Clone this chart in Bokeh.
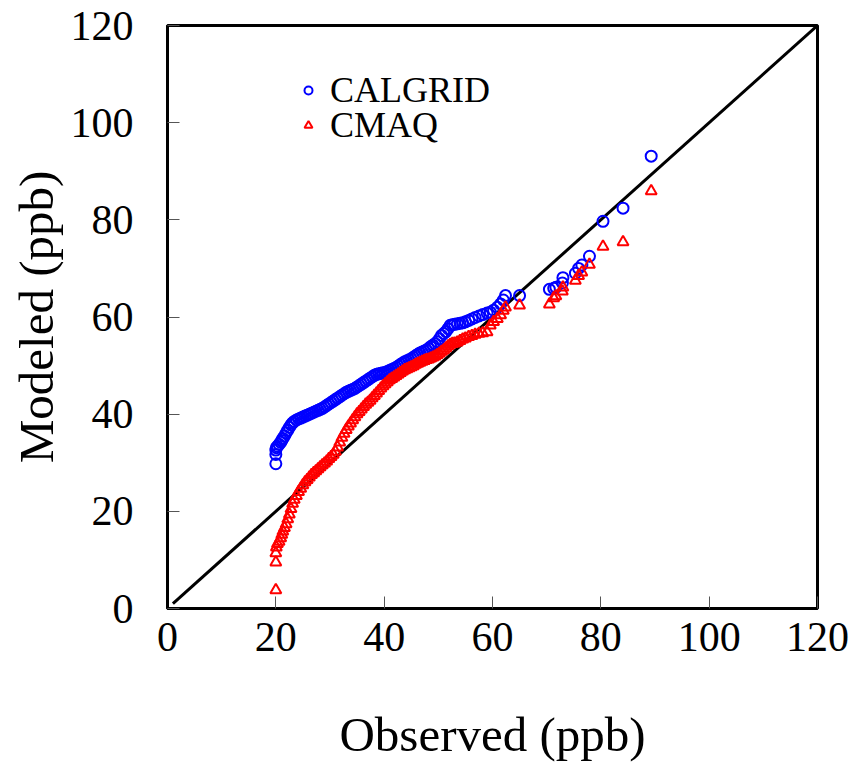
from bokeh.plotting import figure
from bokeh.models import Range1d, FixedTicker, Legend, LegendItem
from bokeh.embed import file_html
from bokeh.resources import INLINE

# Observed quantiles (ppb), shared by both models
observed = [20.0, 20.0, 20.0, 20.1, 20.3, 20.6, 20.9, 21.1, 21.3, 21.6, 21.9, 22.2, 22.5, 22.8,
            23.1, 23.4, 23.8, 24.2, 24.6, 25.0, 25.4, 25.8, 26.2, 26.6, 27.0, 27.4, 27.8, 28.2,
            28.6, 29.0, 29.4, 29.8, 30.2, 30.6, 31.0, 31.4, 31.8, 32.2, 32.6, 33.0, 33.4, 33.8,
            34.2, 34.6, 35.0, 35.4, 35.8, 36.2, 36.6, 37.0, 37.4, 37.8, 38.2, 38.6, 39.0, 39.4,
            39.8, 40.2, 40.6, 41.0, 41.4, 41.8, 42.2, 42.6, 43.0, 43.4, 43.8, 44.2, 44.6, 45.0,
            45.4, 45.8, 46.2, 46.6, 47.0, 47.4, 47.8, 48.2, 48.6, 49.0, 49.4, 49.8, 50.2, 50.6,
            51.0, 51.4, 51.8, 52.2, 52.6, 53.0, 53.5, 54.0, 54.5, 55.0, 55.6, 56.2, 56.8, 57.5,
            58.2, 59.0, 59.6, 60.2, 60.9, 61.5, 62.0, 62.4, 65.0, 70.5, 71.3, 71.7, 72.9, 73.0,
            75.3, 75.9, 76.5, 77.9, 80.4, 84.1, 89.3]

# CALGRID modeled quantiles (ppb)
calgrid = [29.8, 31.7, 32.6, 33.1, 33.4, 33.8, 34.2, 34.6, 35.0, 35.5, 36.1, 36.7, 37.3, 37.8,
           38.2, 38.5, 38.8, 39.0, 39.2, 39.4, 39.6, 39.8, 40.0, 40.2, 40.4, 40.6, 40.8, 41.0,
           41.2, 41.5, 41.8, 42.1, 42.4, 42.7, 43.0, 43.3, 43.6, 43.9, 44.2, 44.5, 44.7, 44.9,
           45.1, 45.3, 45.6, 45.9, 46.2, 46.5, 46.8, 47.1, 47.4, 47.7, 48.0, 48.2, 48.3, 48.4,
           48.5, 48.6, 48.8, 49.0, 49.2, 49.4, 49.6, 49.9, 50.2, 50.5, 50.8, 51.0, 51.2, 51.4,
           51.7, 52.0, 52.3, 52.6, 52.8, 53.0, 53.2, 53.5, 53.9, 54.2, 54.5, 54.9, 55.5, 56.2,
           56.6, 57.0, 57.6, 58.3, 58.4, 58.5, 58.6, 58.7, 58.8, 59.0, 59.3, 59.6, 59.9, 60.2,
           60.5, 60.8, 61.0, 61.4, 62.0, 62.7, 63.5, 64.4, 64.4, 65.7, 65.9, 66.1, 67.0, 68.1,
           69.0, 70.0, 70.7, 72.5, 79.7, 82.4, 93.1]

# CMAQ modeled quantiles (ppb)
cmaq = [3.8, 9.5, 11.4, 12.6, 13.3, 13.8, 14.5, 15.2, 15.9, 16.6, 17.4, 18.4, 19.4, 20.5,
        21.6, 22.4, 23.2, 24.0, 24.7, 25.4, 26.0, 26.5, 27.0, 27.5, 27.9, 28.3, 28.7, 29.1,
        29.5, 29.9, 30.3, 30.8, 31.2, 31.7, 32.3, 33.2, 34.2, 35.2, 36.0, 36.8, 37.5, 38.1,
        38.8, 39.4, 40.0, 40.5, 41.0, 41.5, 42.0, 42.4, 42.8, 43.3, 43.8, 44.3, 44.8, 45.3,
        45.8, 46.2, 46.6, 47.0, 47.3, 47.6, 47.9, 48.2, 48.5, 48.8, 49.1, 49.3, 49.5, 49.7,
        49.9, 50.2, 50.4, 50.6, 50.8, 51.0, 51.2, 51.3, 51.5, 51.7, 51.9, 52.2, 52.5, 52.9,
        53.2, 53.6, 54.0, 54.3, 54.5, 54.6, 54.8, 55.1, 55.4, 55.6, 55.9, 56.1, 56.4, 56.6,
        56.7, 56.9, 58.3, 59.0, 59.6, 60.4, 61.3, 62.0, 62.4, 62.6, 63.9, 64.3, 65.3, 66.1,
        67.5, 68.5, 69.2, 70.8, 74.5, 75.4, 85.9]

one_to_one = [1, 120]
ticks = [0, 20, 40, 60, 80, 100, 120]
series_names = ["CALGRID", "CMAQ"]

FONT = "Liberation Serif"

p = figure(width=855, height=764, output_backend="svg", toolbar_location=None,
           x_range=Range1d(0, 120), y_range=Range1d(0, 120),
           min_border_left=167, min_border_right=38, min_border_top=25, min_border_bottom=156)

p.grid.visible = False
p.outline_line_color = "black"
p.outline_line_width = 3
p.background_fill_color = "white"
p.border_fill_color = "white"

for ax in (p.xaxis[0], p.yaxis[0]):
    ax.ticker = FixedTicker(ticks=ticks)
    ax.major_tick_in = 12
    ax.major_tick_out = 0
    ax.minor_tick_in = 0
    ax.minor_tick_out = 0
    ax.major_tick_line_color = "#555555"
    ax.major_tick_line_width = 1
    ax.axis_line_color = "black"
    ax.axis_line_width = 3
    ax.major_label_text_font = FONT
    ax.major_label_text_font_size = "42px"
    ax.major_label_text_color = "black"
    ax.axis_label_text_font = FONT
    ax.axis_label_text_font_size = "49px"
    ax.axis_label_text_font_style = "normal"
    ax.axis_label_text_color = "black"

p.xaxis.axis_label = "Observed (ppb)"
p.yaxis.axis_label = "Modeled (ppb)"
p.xaxis.major_label_standoff = 14
p.yaxis.major_label_standoff = 34
p.xaxis.axis_label_standoff = 53
p.yaxis.axis_label_standoff = 4

p.line(one_to_one, one_to_one, line_color="black", line_width=3)

r1 = p.scatter(observed, calgrid, marker="circle", size=11, fill_color=None,
               line_color="blue", line_width=2)
r2 = p.scatter(observed, cmaq, marker="triangle", size=11, fill_color=None,
               line_color="red", line_width=2)

legend_style = dict(padding=0, margin=0, spacing=0,
                    label_text_font=FONT, label_text_font_size="36px",
                    label_text_color="black",
                    label_standoff=12, glyph_width=20, glyph_height=20,
                    background_fill_alpha=0, border_line_alpha=0)
legend_a = Legend(items=[LegendItem(label=series_names[0], renderers=[r1])],
                  location=(131, 497), **legend_style)
legend_b = Legend(items=[LegendItem(label=series_names[1], renderers=[r2])],
                  location=(131, 462), **legend_style)
p.add_layout(legend_a)
p.add_layout(legend_b)

open("out.html", "w").write(file_html(p, INLINE))
